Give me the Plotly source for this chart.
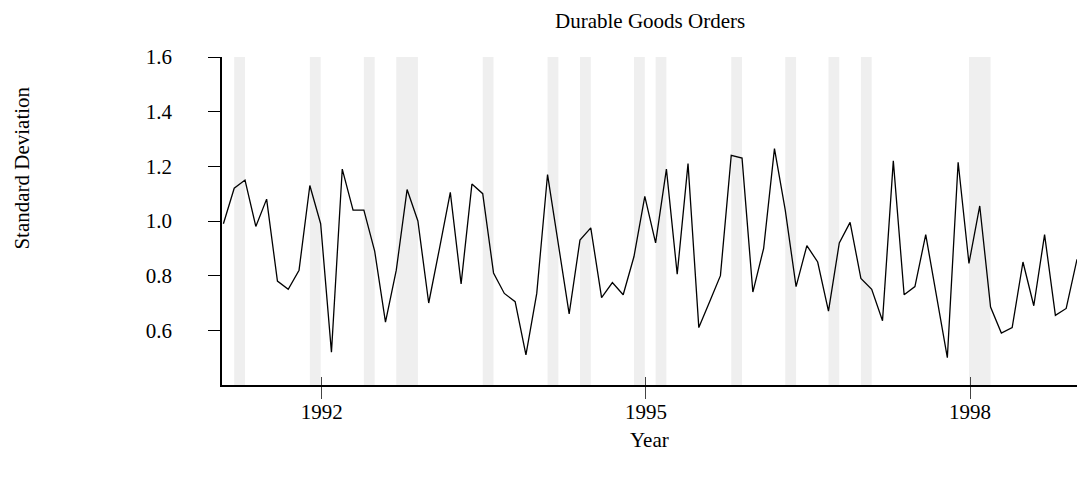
import plotly.graph_objects as go

# ---- data ----
start_year = 1991.09
step = 0.1
std_dev = [0.99, 1.12, 1.15, 0.98, 1.08, 0.78, 0.75, 0.82, 1.13, 0.99,
           0.52, 1.19, 1.04, 1.04, 0.89, 0.63, 0.82, 1.115, 1.00, 0.70,
           0.90, 1.105, 0.77, 1.135, 1.10, 0.81, 0.735, 0.705, 0.51, 0.735,
           1.17, 0.92, 0.66, 0.93, 0.975, 0.72, 0.775, 0.73, 0.87, 1.09,
           0.92, 1.19, 0.805, 1.21, 0.61, 0.705, 0.80, 1.24, 1.23, 0.74,
           0.90, 1.265, 1.04, 0.76, 0.91, 0.85, 0.67, 0.92, 0.995, 0.79,
           0.75, 0.635, 1.22, 0.73, 0.76, 0.95, 0.725, 0.50, 1.215, 0.845,
           1.055, 0.685, 0.59, 0.61, 0.85, 0.69, 0.95, 0.655, 0.68, 0.86]
years = [round(start_year + step * i, 3) for i in range(len(std_dev))]

band_start = [1991.19, 1991.89, 1992.39, 1992.69, 1993.49, 1994.09, 1994.39,
              1994.89, 1995.09, 1995.79, 1996.29, 1996.69, 1996.99, 1997.99]
band_end = [1991.29, 1991.99, 1992.49, 1992.89, 1993.59, 1994.19, 1994.49,
            1994.99, 1995.19, 1995.89, 1996.39, 1996.79, 1997.09, 1998.19]

x_ticks = [1992, 1995, 1998]
y_ticks = [0.6, 0.8, 1.0, 1.2, 1.4, 1.6]

x_range = [1991.077, 1998.99]
y_range = [0.4, 1.6]

FONT = "Liberation Serif, Times New Roman, serif"

fig = go.Figure()
fig.add_trace(go.Scatter(x=years, y=std_dev, mode="lines",
                         line=dict(color="black", width=1.3),
                         showlegend=False, hoverinfo="skip"))
# invisible trace to activate the overlay axis used for crossing tick marks
fig.add_trace(go.Scatter(x=years, y=std_dev, mode="lines", xaxis="x2",
                         line=dict(color="rgba(0,0,0,0)", width=0),
                         showlegend=False, hoverinfo="skip"))

for s, e in zip(band_start, band_end):
    fig.add_shape(type="rect", xref="x", yref="paper", x0=s, x1=e, y0=0, y1=1,
                  fillcolor="#efefef", line=dict(width=0), layer="below")

fig.update_layout(
    width=1077, height=485,
    margin=dict(l=222, r=0, t=57, b=100, autoexpand=False),
    paper_bgcolor="white", plot_bgcolor="white",
    font=dict(family=FONT, color="black", size=21),
    xaxis=dict(range=x_range, tickvals=x_ticks, ticktext=[str(t) for t in x_ticks],
               showgrid=False, zeroline=False, showline=True, linecolor="black",
               linewidth=2, ticks="outside", ticklen=12, tickwidth=1.2,
               tickcolor="#444", tickfont=dict(size=21, family=FONT),
               ticklabelstandoff=-5, automargin=False),
    xaxis2=dict(range=x_range, overlaying="x", anchor="y", side="bottom",
                tickvals=x_ticks, showticklabels=False, showgrid=False,
                zeroline=False, showline=False, ticks="inside", ticklen=8,
                tickwidth=1.2, tickcolor="#444", automargin=False),
    yaxis=dict(range=y_range, tickvals=y_ticks,
               ticktext=["%.1f" % t for t in y_ticks],
               showgrid=False, zeroline=False, showline=True, linecolor="black",
               linewidth=1.7, ticks="outside", ticklen=12, tickwidth=1.2,
               tickcolor="black", tickfont=dict(size=21, family=FONT),
               ticklabelstandoff=32, automargin=False),
    annotations=[
        dict(text="Durable Goods Orders", xref="paper", yref="paper", x=0.5, y=1.11,
             showarrow=False, font=dict(size=21, family=FONT), xanchor="center",
             yanchor="middle"),
        dict(text="Year", xref="paper", yref="paper", x=0.5, y=-0.168,
             showarrow=False, font=dict(size=21, family=FONT), xanchor="center",
             yanchor="middle"),
        dict(text="Standard Deviation", xref="paper", yref="paper", x=-0.235,
             y=0.66, textangle=-90, showarrow=False,
             font=dict(size=21, family=FONT), xanchor="center", yanchor="middle"),
    ],
)

fig.write_html("out.html", config={"displayModeBar": False},
               post_script="document.body.style.margin='0';"
                           "document.body.style.overflow='hidden';")
